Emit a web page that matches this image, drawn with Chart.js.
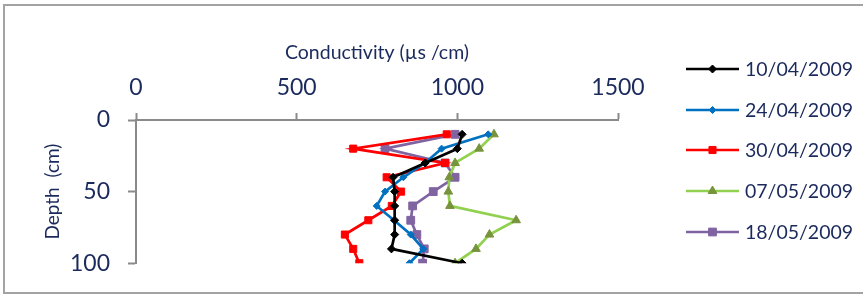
<!DOCTYPE html>
<html>
<head>
<meta charset="utf-8">
<script src="https://cdn.jsdelivr.net/npm/chart.js@4.4.1/dist/chart.umd.min.js"></script>
<style>
  html, body { margin: 0; padding: 0; background: #fff; }
  #wrap { position: relative; width: 863px; height: 295px; }
</style>
</head>
<body>
<div id="wrap"><canvas id="profile-chart" width="863" height="295"></canvas></div>
<script>
// depth of each sample (cm)
var depths = [10, 20, 30, 40, 50, 60, 70, 80, 90, 100];
var dateLabels = ["10/04/2009", "24/04/2009", "30/04/2009", "07/05/2009", "18/05/2009"];

// conductivity (µs/cm) per sampling date
var cond1004 = [1015, 1000, 900, 800, 805, 805, 805, 805, 795, 1015];
var cond2404 = [1096, 951, 899, 832, 775, 749, 803, 855, 894, 851];
var cond3004 = [967, 676, 962, 780, 825, 796, 723, 650, 676, 695];
var cond0705 = [1114, 1068, 993, 975, 972, 977, 1183, 1100, 1058, 993];
var cond1805 = [993, 775, 962, 993, 925, 861, 855, 874, 897, 892];

var xTicks = [0, 500, 1000, 1500];
var yTicks = [0, 50, 100];

var navy = "#1b2a5c";
var axisGray = "#8a8a8a";

function pairs(vals){
  var out = [];
  for(var i = 0; i < vals.length; i++){
    out.push({x: vals[i], y: depths[i]});
  }
  return out;
}

function series(label, vals, lineColor, markColor, style, radius){
  return {
    label: label,
    data: pairs(vals),
    showLine: true,
    borderColor: lineColor,
    borderWidth: 2.7,
    pointStyle: style,
    pointRadius: radius,
    pointHoverRadius: radius,
    pointBackgroundColor: markColor,
    pointBorderColor: markColor,
    pointBorderWidth: 1,
    tension: 0
  };
}

// legend drawn by hand: line with its marker, then the date
var sideLegend = {
  id: "sideLegend",
  afterDraw: function(chart){
    var ctx = chart.ctx;
    ctx.save();
    // outer frame
    ctx.strokeStyle = "#a3a3a3";
    ctx.lineWidth = 2;
    ctx.strokeRect(4, 5, 900, 288);

    var rows = [69, 110, 150, 191, 232];
    chart.data.datasets.forEach(function(ds, i){
      var y = rows[i];
      ctx.strokeStyle = ds.borderColor;
      ctx.lineWidth = ds.borderWidth;
      ctx.beginPath();
      ctx.moveTo(686, y);
      ctx.lineTo(739, y);
      ctx.stroke();
      ctx.fillStyle = ds.pointBackgroundColor;
      ctx.strokeStyle = ds.pointBorderColor;
      ctx.lineWidth = 1;
      Chart.helpers.drawPoint(ctx, {pointStyle: ds.pointStyle, radius: ds.pointRadius, rotation: 0, borderWidth: 1}, 712.5, y);
      ctx.fillStyle = navy;
      ctx.font = "19.5px Lato";
      ctx.textBaseline = "middle";
      ctx.textAlign = "left";
      ctx.fillText(ds.label, 745, y + 1);
    });
    ctx.restore();
  }
};

var ctx = document.getElementById("profile-chart").getContext("2d");
var profileChart = new Chart(ctx, {
  type: "scatter",
  data: {
    datasets: [
      series(dateLabels[0], cond1004, "#000000", "#000000", "rectRot", 4),
      series(dateLabels[1], cond2404, "#0070C0", "#0070C0", "rectRot", 3.5),
      series(dateLabels[2], cond3004, "#FF0000", "#FF0000", "rect", 5),
      series(dateLabels[3], cond0705, "#92D050", "#77933C", "triangle", 5),
      series(dateLabels[4], cond1805, "#8064A2", "#8064A2", "rect", 5.5)
    ]
  },
  options: {
    responsive: false,
    animation: false,
    layout: { padding: { left: 0, top: 0, right: 245, bottom: 30 } },
    plugins: {
      legend: { display: false },
      tooltip: { enabled: false }
    },
    scales: {
      x: {
        type: "linear",
        position: "top",
        min: 0,
        max: 1500,
        afterFit: function(scale){ scale.height = 120; },
        afterBuildTicks: function(scale){
          scale.ticks = xTicks.map(function(v){ return {value: v}; });
        },
        grid: {
          drawOnChartArea: false,
          drawTicks: true,
          tickLength: 7,
          tickColor: axisGray,
          tickWidth: 2
        },
        border: { display: true, color: axisGray, width: 2 },
        ticks: {
          color: navy,
          font: { family: "Lato", size: 23 },
          padding: 12,
          maxRotation: 0,
          callback: function(v){ return String(v); }
        },
        title: {
          display: true,
          text: "Conductivity (µs /cm)",
          color: navy,
          font: { family: "Lato", size: 19.5 },
          padding: { top: 41, bottom: 0 }
        }
      },
      y: {
        type: "linear",
        position: "left",
        reverse: true,
        min: 0,
        max: 100,
        afterFit: function(scale){ scale.width = 136; },
        afterBuildTicks: function(scale){
          scale.ticks = yTicks.map(function(v){ return {value: v}; });
        },
        grid: {
          drawOnChartArea: false,
          drawTicks: true,
          tickLength: 8,
          tickColor: axisGray,
          tickWidth: 2
        },
        border: { display: true, color: axisGray, width: 2 },
        ticks: {
          color: navy,
          font: { family: "Lato", size: 23 },
          padding: 18,
          callback: function(v){ return String(v); }
        },
        title: {
          display: true,
          text: "Depth  (cm)",
          color: navy,
          font: { family: "Lato", size: 19 },
          padding: { top: 41, bottom: 0 }
        }
      }
    }
  },
  plugins: [sideLegend]
});
</script>
</body>
</html>
